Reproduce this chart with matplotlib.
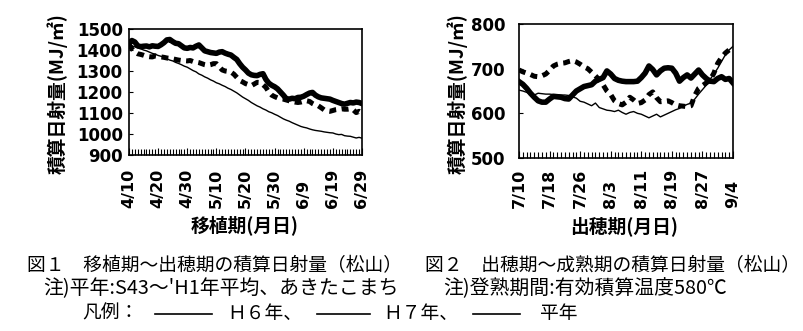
import matplotlib
matplotlib.use("Agg")
import matplotlib.pyplot as plt
from matplotlib.lines import Line2D

plt.rcParams['font.family'] = ['Noto Sans CJK JP', 'DejaVu Sans']

# ---- Fig.1: transplanting -> heading (daily, 4/10 .. 6/29)
left_ticklabels = ['4/10', '4/20', '4/30', '5/10', '5/20', '5/30', '6/9', '6/19', '6/29']
left_h6 = [1432, 1445, 1438, 1420, 1416, 1418, 1419, 1415, 1420, 1418,
           1417, 1425, 1435, 1448, 1450, 1440, 1432, 1430, 1420, 1410,
           1408, 1412, 1410, 1418, 1424, 1410, 1396, 1392, 1388, 1386,
           1384, 1390, 1392, 1385, 1380, 1376, 1365, 1355, 1335, 1318,
           1305, 1290, 1282, 1279, 1278, 1284, 1287, 1260, 1242, 1232,
           1225, 1215, 1200, 1185, 1168, 1166, 1170, 1168, 1174, 1175,
           1180, 1188, 1195, 1198, 1185, 1177, 1172, 1170, 1168, 1166,
           1160, 1155, 1150, 1145, 1142, 1146, 1150, 1148, 1152, 1150,
           1145]
left_h7 = [1427, 1405, 1390, 1382, 1379, 1375, 1370, 1368, 1367, 1372,
           1370, 1367, 1365, 1362, 1360, 1358, 1355, 1352, 1350, 1349,
           1348, 1350, 1345, 1343, 1340, 1335, 1330, 1327, 1330, 1335,
           1335, 1320, 1305, 1300, 1298, 1295, 1285, 1270, 1255, 1248,
           1240, 1235, 1230, 1238, 1246, 1245, 1235, 1222, 1200, 1185,
           1178, 1172, 1168, 1166, 1162, 1158, 1155, 1152, 1150, 1152,
           1156, 1158, 1155, 1145, 1138, 1134, 1125, 1115, 1110, 1108,
           1112, 1116, 1118, 1120, 1118, 1118, 1120, 1115, 1102, 1108,
           1100]
left_normal = [1424, 1420, 1415, 1410, 1406, 1400, 1396, 1390, 1384, 1380,
               1374, 1370, 1364, 1358, 1352, 1348, 1341, 1336, 1330, 1323,
               1318, 1310, 1302, 1296, 1286, 1280, 1272, 1266, 1258, 1252,
               1244, 1239, 1232, 1226, 1218, 1212, 1204, 1196, 1186, 1176,
               1168, 1160, 1150, 1142, 1134, 1128, 1120, 1114, 1106, 1101,
               1094, 1088, 1080, 1072, 1066, 1061, 1054, 1048, 1042, 1036,
               1032, 1029, 1024, 1020, 1017, 1015, 1013, 1010, 1008, 1006,
               1005, 1000, 997, 998, 992, 990, 989, 985, 981, 984,
               980]

# ---- Fig.2: heading -> maturity (daily, 7/10 .. 9/4)
right_ticklabels = ['7/10', '7/18', '7/26', '8/3', '8/11', '8/19', '8/27', '9/4']
right_h6 = [671, 665, 656, 645, 636, 628, 625, 625, 632, 638,
            637, 636, 633, 632, 641, 650, 655, 660, 662, 664,
            672, 676, 680, 695, 688, 678, 674, 672, 671, 671,
            671, 672, 680, 690, 706, 698, 686, 695, 701, 702,
            701, 690, 672, 680, 686, 679, 688, 697, 686, 678,
            672, 671, 678, 682, 676, 678, 668]
right_h7 = [697, 693, 690, 687, 683, 682, 684, 688, 696, 706,
            710, 712, 713, 716, 718, 715, 710, 704, 700, 692,
            684, 675, 664, 650, 642, 628, 622, 619, 625, 636,
            630, 622, 624, 630, 642, 648, 635, 626, 627, 628,
            624, 619, 617, 616, 615, 617, 640, 656, 662, 668,
            675, 690, 712, 725, 735, 742, 745]
right_normal = [652, 650, 647, 642, 641, 645, 644, 643, 643, 642,
                642, 641, 641, 640, 637, 634, 627, 625, 621, 617,
                623, 613, 610, 607, 606, 604, 607, 602, 598, 602,
                604, 600, 598, 594, 590, 594, 598, 592, 596, 600,
                604, 608, 611, 616, 620, 623, 632, 643, 653, 663,
                676, 688, 701, 716, 731, 742, 750]

W, H = 804, 331
fig = plt.figure(figsize=(W / 100, H / 100), dpi=100)


def px_box(x0, y0, x1, y1):
    return [x0 / W, 1 - y1 / H, (x1 - x0) / W, (y1 - y0) / H]


def draw_panel(ax, h6, h7, normal, ticklabels, step, ylim, ystep, ypad, xpad):
    x = list(range(len(h6)))
    ax.plot(x, normal, color='black', lw=1.0)
    ax.plot(x, h7, color='black', lw=3.6, dashes=(1.4, 1.1), solid_capstyle='butt')
    ax.plot(x, h6, color='black', lw=4.0, solid_joinstyle='round')
    ax.set_xlim(0, len(h6) - 1)
    ax.set_ylim(*ylim)
    ax.set_xticks(list(range(0, len(h6), step)))
    ax.set_xticklabels(ticklabels)
    ax.set_xticks(list(range(len(h6))), minor=True)
    ax.set_yticks(list(range(ylim[0], ylim[1] + 1, ystep)))
    ax.tick_params(axis='x', which='major', direction='in', length=5, width=0.8,
                   labelrotation=90, pad=xpad, labelsize=11.5)
    ax.tick_params(axis='x', which='minor', direction='in', length=4, width=0.8)
    ax.tick_params(axis='y', direction='in', length=3, width=0.8, pad=ypad, labelsize=12)
    for lab in ax.get_xticklabels():
        lab.set_va('bottom')
        lab.set_family('DejaVu Sans')
        lab.set_fontweight('bold')
    for lab in ax.get_yticklabels():
        lab.set_family('DejaVu Sans')
        lab.set_fontweight('bold')
    for sp in ax.spines.values():
        sp.set_linewidth(1.2)


ax1 = fig.add_axes(px_box(129, 29, 362, 155))
draw_panel(ax1, left_h6, left_h7, left_normal, left_ticklabels, 10,
           (900, 1500), 100, 4.5, 38)

ax2 = fig.add_axes(px_box(519, 24, 733, 158))
draw_panel(ax2, right_h6, right_h7, right_normal, right_ticklabels, 8,
           (500, 800), 100, 10, 36)

label_kw = dict(fontsize=13.5, fontweight='bold', ha='center', va='center')
fig.text(57 / W, 1 - 94 / H, '積算日射量(MJ/㎡)', rotation=90, **label_kw)
fig.text(457 / W, 1 - 94 / H, '積算日射量(MJ/㎡)', rotation=90, **label_kw)
fig.text(245 / W, 1 - 225 / H, '移植期(月日)', **label_kw)
fig.text(624 / W, 1 - 226 / H, '出穂期(月日)', **label_kw)

# ---- captions
cap1 = dict(fontsize=13.5, ha='left', va='center')
cap2 = dict(fontsize=14.3, ha='left', va='center')
fig.text(27 / W, 1 - 266 / H, '図１　移植期～出穂期の積算日射量（松山）', **cap1)
fig.text(425 / W, 1 - 266 / H, '図２　出穂期～成熟期の積算日射量（松山）', **cap1)
fig.text(43 / W, 1 - 289 / H, "注)平年:S43～'H1年平均、あきたこまち", **cap2)
fig.text(443 / W, 1 - 289 / H, '注)登熟期間:有効積算温度580℃', **cap2)

fig.text(82 / W, 1 - 313 / H, '凡例：', **cap1)
fig.text(227 / W, 1 - 313 / H, 'Ｈ６年、', **cap1)
fig.text(383 / W, 1 - 313 / H, 'Ｈ７年、', **cap1)
fig.text(540 / W, 1 - 313 / H, '平年', **cap1)
for x0, x1 in [(155, 212), (317, 370), (473, 520)]:
    fig.add_artist(Line2D([x0 / W, x1 / W], [1 - 314 / H, 1 - 314 / H],
                          color='black', lw=1.2, transform=fig.transFigure))

fig.savefig('out.png', dpi=100)
